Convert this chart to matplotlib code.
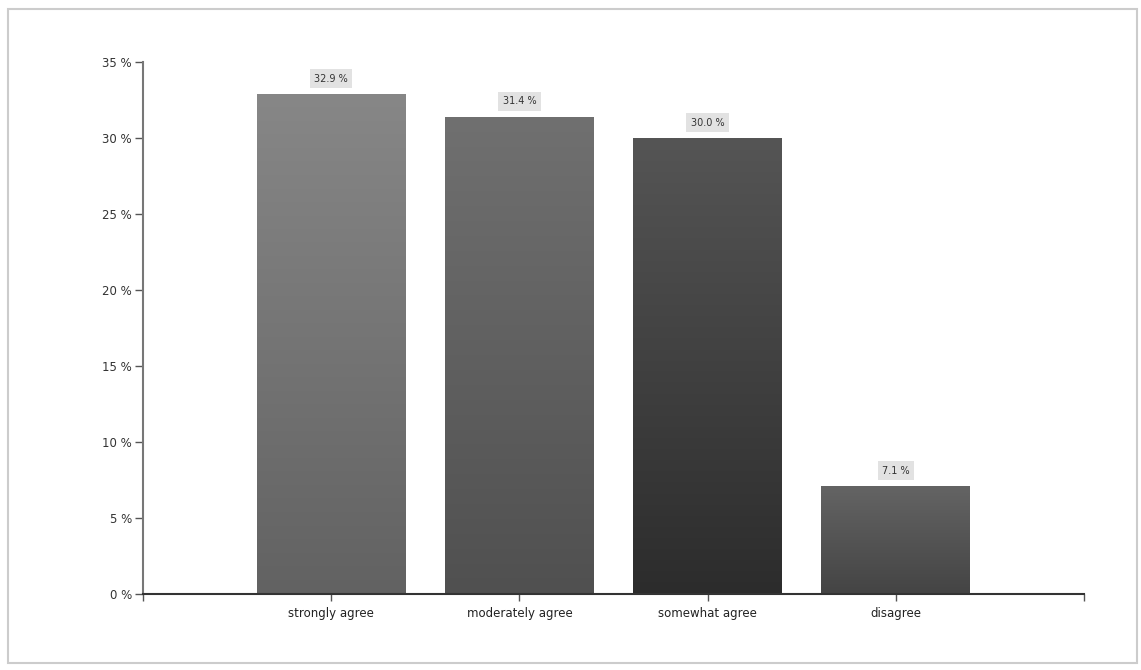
import numpy as np
import matplotlib
matplotlib.use('Agg')
import matplotlib.pyplot as plt
from matplotlib.patches import Rectangle
from matplotlib.colors import LinearSegmentedColormap

plt.rcParams['font.family'] = ['DejaVu Sans']

categories = ['strongly agree', 'moderately agree', 'somewhat agree', 'disagree']
shares = [32.9, 31.4, 30.0, 7.1]
# top / bottom shade of each bar gradient
top_colors = ['#878787', '#707070', '#555555', '#646464']
bottom_colors = ['#626262', '#505050', '#2c2c2c', '#444444']

fig = plt.figure(figsize=(11.41, 6.70), dpi=100)
fig.patches.append(Rectangle((8 / 1141, 1 - 663 / 670), 1129 / 1141, 654 / 670,
                             transform=fig.transFigure, fill=False,
                             edgecolor='#cccccc', linewidth=1.5))

ax = fig.add_axes([143 / 1141, 1 - 594 / 670, 941 / 1141, 532 / 670])
x = np.arange(len(categories))
width = 0.79
bars = ax.bar(x, shares, width=width, color='none', edgecolor='none', zorder=2)

for bar, c_top, c_bot, val in zip(bars, top_colors, bottom_colors, shares):
    cmap = LinearSegmentedColormap.from_list('g', [c_bot, c_top])
    x0, h = bar.get_x(), bar.get_height()
    grad = np.linspace(0, 1, 256).reshape(-1, 1)
    im = ax.imshow(grad, cmap=cmap, origin='lower', aspect='auto',
                   extent=[x0, x0 + bar.get_width(), 0, h], zorder=2)
    im.set_clip_path(bar)
    ax.annotate(f'{val:.1f} %', (x0 + bar.get_width() / 2, h),
                xytext=(0, 11), textcoords='offset points',
                ha='center', va='center', fontsize=7, color='#333333',
                bbox=dict(boxstyle='square,pad=0.45', facecolor='#e2e2e2',
                          edgecolor='none'))

ax.set_xlim(-1, 4)
ax.set_ylim(0, 35)
ax.set_xticks([-1, 0, 1, 2, 3, 4])
ax.set_xticklabels([''] + categories + [''], fontsize=8.5, color='#222222')
ax.set_yticks(np.arange(0, 36, 5))
ax.set_yticklabels([f'{v} %' for v in range(0, 36, 5)], fontsize=8.5, color='#333333')
ax.tick_params(axis='y', length=6, width=1, color='#555555', pad=2)
ax.tick_params(axis='x', length=5, width=1, color='#555555', pad=4)

for side in ['top', 'right']:
    ax.spines[side].set_visible(False)
ax.spines['left'].set_color('#777777')
ax.spines['left'].set_linewidth(1.5)
ax.spines['bottom'].set_color('#333333')
ax.spines['bottom'].set_linewidth(1.5)

fig.savefig('out.png', dpi=100)
